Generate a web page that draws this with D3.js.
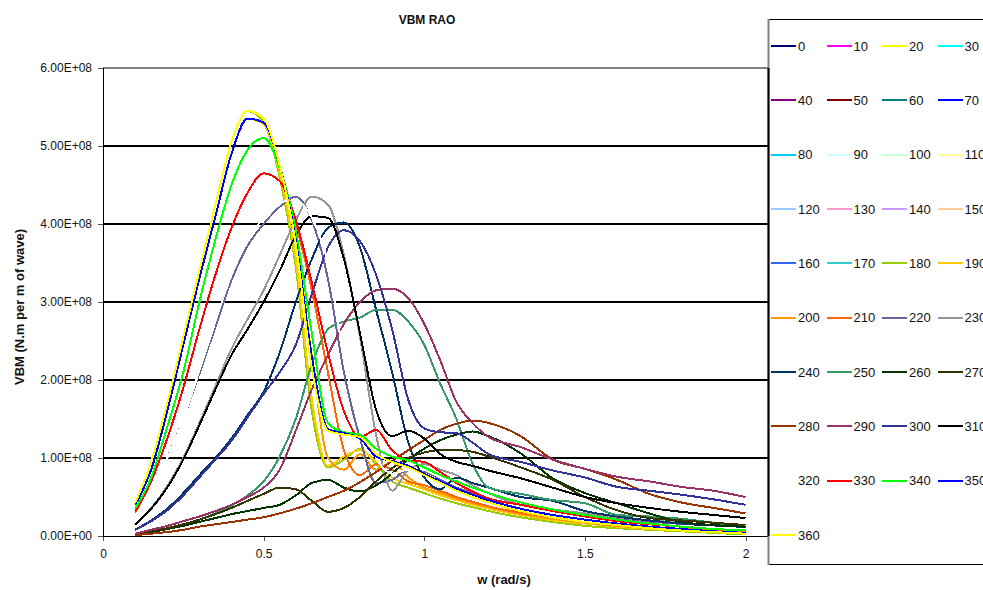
<!DOCTYPE html>
<html>
<head>
<meta charset="utf-8">
<script src="https://cdn.jsdelivr.net/npm/d3@7"></script>
<style>
  body { margin: 0; background: #fff; }
  svg { display: block; }
  text { font-family: Arial, "Liberation Sans", sans-serif; fill: #111; }
</style>
</head>
<body>
<svg width="983" height="590"></svg>
<script>
/*
Data
*/
// wave frequency (rad/s)
var w = [0.1, 0.15, 0.2, 0.25, 0.3, 0.35, 0.4, 0.45, 0.5, 0.55, 0.6, 0.65, 0.7, 0.75, 0.8, 0.85, 0.9, 0.95, 1.0,
         1.05, 1.1, 1.15, 1.2, 1.3, 1.4, 1.5, 1.6, 1.7, 1.8, 1.9, 2.0];

// heading angles (deg), one series each
var headings = [0, 10, 20, 30, 40, 50, 60, 70, 80, 90, 100, 110, 120, 130, 140, 150, 160, 170, 180,
                190, 200, 210, 220, 230, 240, 250, 260, 270, 280, 290, 300, 310, 320, 330, 340, 350, 360];

// VBM per heading, in 1E+08 N.m per m of wave (heading h and 360-h read the same)
var vbm180 = [0.42, 0.95, 1.70, 2.55, 3.40, 4.25, 5.05, 5.45, 5.30, 4.60, 3.45, 1.60, 0.88, 0.98, 1.12, 0.92, 0.70, 0.62, 0.55,
              0.48, 0.42, 0.37, 0.32, 0.24, 0.18, 0.13, 0.10, 0.08, 0.06, 0.04, 0.02];
var vbm190 = [0.40, 0.85, 1.60, 2.45, 3.30, 4.10, 4.90, 5.35, 5.28, 4.65, 3.55, 1.75, 0.90, 1.02, 1.10, 0.95, 0.75, 0.67, 0.60,
              0.52, 0.46, 0.40, 0.35, 0.27, 0.20, 0.16, 0.12, 0.09, 0.07, 0.05, 0.04];
var vbm200 = [0.35, 0.75, 1.40, 2.10, 3.00, 3.80, 4.50, 4.95, 5.10, 4.72, 3.80, 2.30, 1.00, 0.85, 1.05, 0.85, 0.95, 0.75, 0.62,
              0.55, 0.48, 0.42, 0.37, 0.28, 0.22, 0.17, 0.13, 0.10, 0.08, 0.06, 0.05];
var vbm210 = [0.30, 0.70, 1.25, 1.90, 2.65, 3.35, 3.95, 4.40, 4.65, 4.55, 4.00, 3.15, 2.10, 1.10, 0.78, 0.92, 0.85, 0.70, 0.65,
              0.58, 0.50, 0.44, 0.38, 0.30, 0.24, 0.18, 0.14, 0.11, 0.09, 0.07, 0.05];
var vbm220 = [0.25, 0.55, 1.00, 1.50, 2.08, 2.68, 3.28, 3.72, 4.00, 4.22, 4.35, 4.05, 3.30, 2.10, 1.25, 0.68, 0.72, 0.85, 0.82,
              0.72, 0.62, 0.55, 0.48, 0.40, 0.33, 0.27, 0.22, 0.18, 0.15, 0.12, 0.10];
var vbm230 = [0.15, 0.36, 0.64, 1.00, 1.45, 1.92, 2.40, 2.78, 3.15, 3.60, 4.05, 4.35, 4.25, 3.60, 2.55, 1.30, 0.58, 0.85, 0.92,
              0.85, 0.78, 0.65, 0.55, 0.40, 0.34, 0.29, 0.24, 0.20, 0.17, 0.14, 0.12];
var vbm240 = [0.08, 0.20, 0.35, 0.55, 0.78, 1.00, 1.25, 1.55, 1.85, 2.35, 3.00, 3.55, 3.95, 4.02, 3.70, 2.90, 2.10, 1.20, 0.75,
              0.60, 0.75, 0.68, 0.62, 0.50, 0.45, 0.32, 0.25, 0.20, 0.16, 0.13, 0.10];
var vbm250 = [0.02, 0.05, 0.10, 0.15, 0.21, 0.29, 0.39, 0.52, 0.70, 1.02, 1.50, 2.20, 2.65, 2.75, 2.80, 2.90, 2.90, 2.75, 2.45,
              1.95, 1.50, 0.93, 0.62, 0.54, 0.46, 0.42, 0.27, 0.25, 0.22, 0.17, 0.12];
var vbm260 = [0.02, 0.05, 0.09, 0.13, 0.18, 0.23, 0.28, 0.32, 0.36, 0.40, 0.52, 0.68, 0.72, 0.62, 0.57, 0.65, 0.80, 0.98, 1.12,
              1.23, 1.30, 1.34, 1.28, 1.06, 0.74, 0.55, 0.42, 0.29, 0.18, 0.14, 0.12];
var vbm270 = [0.02, 0.06, 0.10, 0.15, 0.21, 0.28, 0.36, 0.45, 0.54, 0.62, 0.60, 0.45, 0.31, 0.36, 0.50, 0.70, 0.87, 1.00, 1.07,
              1.10, 1.10, 1.08, 1.02, 0.88, 0.72, 0.50, 0.33, 0.23, 0.20, 0.17, 0.14];
var vbm280 = [0.01, 0.03, 0.05, 0.08, 0.12, 0.15, 0.18, 0.21, 0.24, 0.29, 0.35, 0.42, 0.50, 0.58, 0.69, 0.82, 0.96, 1.10, 1.23,
              1.36, 1.44, 1.48, 1.45, 1.28, 0.98, 0.86, 0.72, 0.54, 0.43, 0.36, 0.29];
var vbm290 = [0.03, 0.08, 0.13, 0.19, 0.25, 0.32, 0.40, 0.50, 0.62, 0.85, 1.35, 1.88, 2.32, 2.72, 3.00, 3.15, 3.17, 3.05, 2.72,
              2.25, 1.72, 1.45, 1.27, 1.14, 0.98, 0.86, 0.76, 0.70, 0.63, 0.58, 0.50];
var vbm300 = [0.08, 0.19, 0.33, 0.52, 0.75, 0.98, 1.22, 1.52, 1.82, 2.10, 2.45, 3.10, 3.70, 3.92, 3.78, 3.35, 2.65, 1.75, 1.38,
              1.33, 1.32, 1.20, 1.05, 0.95, 0.84, 0.75, 0.63, 0.58, 0.53, 0.47, 0.40];
var vbm310 = [0.14, 0.35, 0.62, 0.98, 1.42, 1.88, 2.32, 2.65, 3.00, 3.40, 3.85, 4.10, 4.08, 3.55, 2.60, 1.62, 1.28, 1.35, 1.25,
              1.05, 0.95, 0.90, 0.84, 0.74, 0.62, 0.50, 0.42, 0.36, 0.31, 0.27, 0.23];
var vbm320 = [0.25, 0.55, 1.00, 1.50, 2.12, 2.75, 3.35, 3.80, 4.08, 4.28, 4.30, 4.08, 3.50, 2.30, 1.50, 1.00, 0.80, 0.85, 0.80,
              0.70, 0.60, 0.52, 0.45, 0.38, 0.30, 0.25, 0.20, 0.16, 0.13, 0.11, 0.09];
var vbm330 = [0.31, 0.70, 1.25, 1.90, 2.65, 3.35, 3.95, 4.40, 4.65, 4.55, 4.05, 3.25, 2.35, 1.60, 1.27, 1.36, 1.10, 0.97, 0.95,
              0.82, 0.68, 0.57, 0.48, 0.40, 0.32, 0.25, 0.19, 0.15, 0.12, 0.09, 0.07];
var vbm340 = [0.35, 0.75, 1.40, 2.10, 3.00, 3.80, 4.50, 4.95, 5.10, 4.72, 3.92, 2.60, 1.45, 1.33, 1.30, 1.12, 1.02, 0.97, 0.88,
              0.78, 0.70, 0.62, 0.55, 0.43, 0.34, 0.27, 0.21, 0.16, 0.12, 0.09, 0.07];
var vbm350 = [0.40, 0.85, 1.60, 2.45, 3.30, 4.10, 4.90, 5.35, 5.30, 4.75, 3.80, 2.30, 1.37, 1.32, 1.25, 1.02, 0.96, 0.90, 0.80,
              0.70, 0.61, 0.53, 0.46, 0.35, 0.27, 0.21, 0.16, 0.12, 0.09, 0.06, 0.04];
var vbm360 = [0.42, 0.95, 1.70, 2.55, 3.40, 4.25, 5.05, 5.45, 5.35, 4.75, 3.75, 2.15, 1.35, 1.30, 1.27, 1.05, 0.95, 0.88, 0.78,
              0.68, 0.58, 0.50, 0.43, 0.32, 0.24, 0.18, 0.14, 0.10, 0.07, 0.05, 0.03];

var curves = {
    180: vbm180, 190: vbm190, 200: vbm200, 210: vbm210, 220: vbm220, 230: vbm230, 240: vbm240,
    250: vbm250, 260: vbm260, 270: vbm270, 280: vbm280, 290: vbm290, 300: vbm300, 310: vbm310,
    320: vbm320, 330: vbm330, 340: vbm340, 350: vbm350, 360: vbm360
};

var yTicks = [0, 1, 2, 3, 4, 5, 6];
var xTicks = [0, 0.5, 1, 1.5, 2];

// excel default series colours, same order as headings
var lineColors = ["#000080", "#FF00FF", "#FFFF00", "#00FFFF", "#800080", "#800000", "#008080", "#0000FF",
                  "#00CCFF", "#CCFFFF", "#CCFFCC", "#FFFF99", "#99CCFF", "#FF99CC", "#CC99FF", "#FFCC99",
                  "#3366FF", "#33CCCC", "#99CC00", "#FFCC00", "#FF9900", "#FF6600", "#666699", "#969696",
                  "#003366", "#339966", "#003300", "#333300", "#993300", "#993366", "#333399", "#000000",
                  "#FFFFFF", "#FF0000", "#00FF00", "#0000FF", "#FFFF00"];

/*
Layout
*/
var svg = d3.select("svg");
var plot = { left: 103, right: 768, top: 68, bottom: 536 };

var x = d3.scaleLinear().domain([0, 2.07]).range([plot.left, plot.right]);
var y = d3.scaleLinear().domain([0, 6]).range([plot.bottom, plot.top]);

function seriesFor(h) {
    return curves[h >= 180 ? h : 360 - h];
}

// 6.00E+08 style labels
function sci(v) {
    if (v === 0) return "0.00E+00";
    var parts = d3.format(".2e")(v * 1e8).split("e");
    var exp = +parts[1];
    return parts[0] + "E" + (exp < 0 ? "-" : "+") + String(Math.abs(exp)).padStart(2, "0");
}

// gridlines
svg.append("g").selectAll("line")
    .data(yTicks.slice(1))
    .join("line")
    .attr("x1", plot.left).attr("x2", plot.right)
    .attr("y1", d => y(d)).attr("y2", d => y(d))
    .attr("stroke", d => d === 6 ? "#808080" : "#000")
    .attr("stroke-width", 2)
    .attr("shape-rendering", "crispEdges");

// axes
var yAxis = svg.append("g")
    .attr("transform", `translate(${plot.left},0)`)
    .call(d3.axisLeft(y).tickValues(yTicks).tickSize(5).tickPadding(6).tickFormat(sci));
var xAxis = svg.append("g")
    .attr("transform", `translate(0,${plot.bottom})`)
    .call(d3.axisBottom(x).tickValues(xTicks).tickSize(5).tickPadding(8).tickFormat(d3.format("")));

[yAxis, xAxis].forEach(function (g) {
    g.select(".domain").remove();
    g.selectAll(".tick line").attr("stroke", "#555").attr("shape-rendering", "crispEdges");
    g.selectAll(".tick text").style("font-size", "12px").style("font-family", "Arial, 'Liberation Sans', sans-serif").attr("fill", "#222");
});

svg.append("line")
    .attr("x1", plot.left).attr("x2", plot.left)
    .attr("y1", plot.top).attr("y2", plot.bottom)
    .attr("stroke", "#000").attr("shape-rendering", "crispEdges");
svg.append("line")
    .attr("x1", plot.left).attr("x2", plot.right)
    .attr("y1", plot.bottom + 0.5).attr("y2", plot.bottom + 0.5)
    .attr("stroke", "#000").attr("shape-rendering", "crispEdges");

// curves, drawn without antialiasing like the original export
var line = d3.line()
    .x((d, i) => x(w[i]))
    .y(d => y(d))
    .curve(d3.curveMonotoneX);

svg.append("g").selectAll("path")
    .data(headings)
    .join("path")
    .attr("d", h => line(seriesFor(h)))
    .attr("fill", "none")
    .attr("stroke", (h, i) => lineColors[i])
    .attr("stroke-width", 2)
    .attr("stroke-linejoin", "round")
    .attr("shape-rendering", "crispEdges");

// titles
svg.append("text")
    .attr("x", 427).attr("y", 24)
    .attr("text-anchor", "middle")
    .style("font-size", "12px").style("font-weight", "bold")
    .text("VBM RAO");

svg.append("text")
    .attr("x", 504).attr("y", 584)
    .attr("text-anchor", "middle")
    .style("font-size", "13px").style("font-weight", "bold")
    .text("w (rad/s)");

svg.append("text")
    .attr("transform", "translate(24,307) rotate(-90)")
    .attr("text-anchor", "middle")
    .style("font-size", "13px").style("font-weight", "bold")
    .text("VBM (N.m per m of wave)");

/*
Legend
*/
var legend = svg.append("g");
legend.append("rect")
    .attr("x", 768.5).attr("y", 19.5)
    .attr("width", 230).attr("height", 545)
    .attr("fill", "#fff")
    .attr("stroke", "#000");
legend.append("line")
    .attr("x1", 768.5).attr("x2", 768.5).attr("y1", 19).attr("y2", 565)
    .attr("stroke", "#808080").attr("stroke-width", 2);
legend.append("line")
    .attr("x1", 768.5).attr("x2", 768.5).attr("y1", plot.top).attr("y2", plot.bottom)
    .attr("stroke", "#000").attr("stroke-width", 2);

var item = legend.selectAll("g.item")
    .data(headings)
    .join("g")
    .attr("class", "item")
    .attr("transform", (h, i) => `translate(${771 + (i % 4) * 55.5},${46 + Math.floor(i / 4) * 54.35})`);

item.append("line")
    .attr("x1", 0).attr("x2", 25)
    .attr("stroke", (h, i) => lineColors[i])
    .attr("stroke-width", 2)
    .attr("shape-rendering", "crispEdges");

item.append("text")
    .attr("x", 27).attr("dy", "0.35em")
    .style("font-size", "13px")
    .text(h => h);
</script>
</body>
</html>
